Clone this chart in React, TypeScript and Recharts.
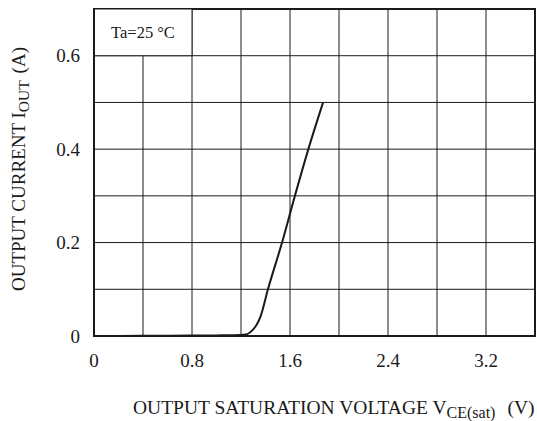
import React from 'react';
import { LineChart, Line, XAxis, YAxis, CartesianGrid, ReferenceArea, Label } from 'recharts';

const FONT = '"Liberation Serif", "Times New Roman", serif';
const INK = '#1a1a1a';

// output saturation voltage (V) vs output current (A)
const vce = [0, 0.4, 0.8, 1.0, 1.2, 1.24, 1.27, 1.3, 1.33, 1.36, 1.42, 1.535, 1.64, 1.75, 1.87];
const iout = [0, 0.0005, 0.001, 0.0013, 0.002, 0.003, 0.007, 0.014, 0.025, 0.042, 0.1, 0.2, 0.3, 0.4, 0.5];

const xGridTicks = [0, 0.4, 0.8, 1.2, 1.6, 2.0, 2.4, 2.8, 3.2, 3.6];
const xLabels = [0, 0.8, 1.6, 2.4, 3.2];
const yGridTicks = [0, 0.1, 0.2, 0.3, 0.4, 0.5, 0.6, 0.7];
const yLabels = [0, 0.2, 0.4, 0.6];

const data = vce.map((v, i) => ({ v, i: iout[i] }));

const tickStyle = { fontSize: 19, fontFamily: FONT, fill: INK };

function XTitle() {
  return (
    <text x={133} y={414} fontFamily={FONT} fontSize={19.5} fill={INK}>
      OUTPUT SATURATION VOLTAGE V
      <tspan fontSize={16} dy={4}>CE(sat)</tspan>
      <tspan dx={12} dy={-4}>(V)</tspan>
    </text>
  );
}

function YTitle() {
  return (
    <text
      x={25}
      y={169}
      transform="rotate(-90, 25, 169)"
      textAnchor="middle"
      fontFamily={FONT}
      fontSize={19}
      fill={INK}
    >
      OUTPUT CURRENT I
      <tspan fontSize={15.5} dy={4}>OUT</tspan>
      <tspan dx={7} dy={-4}>(A)</tspan>
    </text>
  );
}

export default function App() {
  return (
    <div style={{ position: 'absolute', left: 0, top: 0, width: 537, height: 421, background: '#fff' }}>
      <LineChart width={537} height={421} data={data} margin={{ top: 9, right: 2, bottom: 0, left: 0 }}>
        <CartesianGrid stroke={INK} strokeWidth={1} />
        <XAxis
          dataKey="v"
          type="number"
          domain={[0, 3.6]}
          ticks={xGridTicks}
          interval={0}
          height={85}
          tickSize={0}
          tickMargin={18}
          tick={tickStyle}
          tickFormatter={(t: number) => (xLabels.includes(t) ? String(t) : '')}
          axisLine={{ stroke: INK, strokeWidth: 2 }}
        >
          <Label content={() => <XTitle />} />
        </XAxis>
        <YAxis
          type="number"
          domain={[0, 0.7]}
          ticks={yGridTicks}
          interval={0}
          width={94}
          tickSize={0}
          tickMargin={14}
          tick={tickStyle}
          tickFormatter={(t: number) => (yLabels.includes(t) ? String(t) : '')}
          axisLine={{ stroke: INK, strokeWidth: 2 }}
        >
          <Label content={() => <YTitle />} />
        </YAxis>
        <ReferenceArea
          x1={0}
          x2={3.6}
          y1={0}
          y2={0.7}
          fill="none"
          stroke={INK}
          strokeWidth={2}
        />
        <ReferenceArea
          x1={0}
          x2={0.8}
          y1={0.6}
          y2={0.7}
          fill="#fff"
          fillOpacity={1}
          stroke={INK}
          strokeWidth={1}
          label={{ value: 'Ta=25 °C', position: 'center', fontSize: 16.5, fontFamily: FONT, fill: INK }}
        />
        <Line
          type="monotone"
          dataKey="i"
          stroke={INK}
          strokeWidth={2}
          dot={false}
          isAnimationActive={false}
        />
      </LineChart>
    </div>
  );
}
